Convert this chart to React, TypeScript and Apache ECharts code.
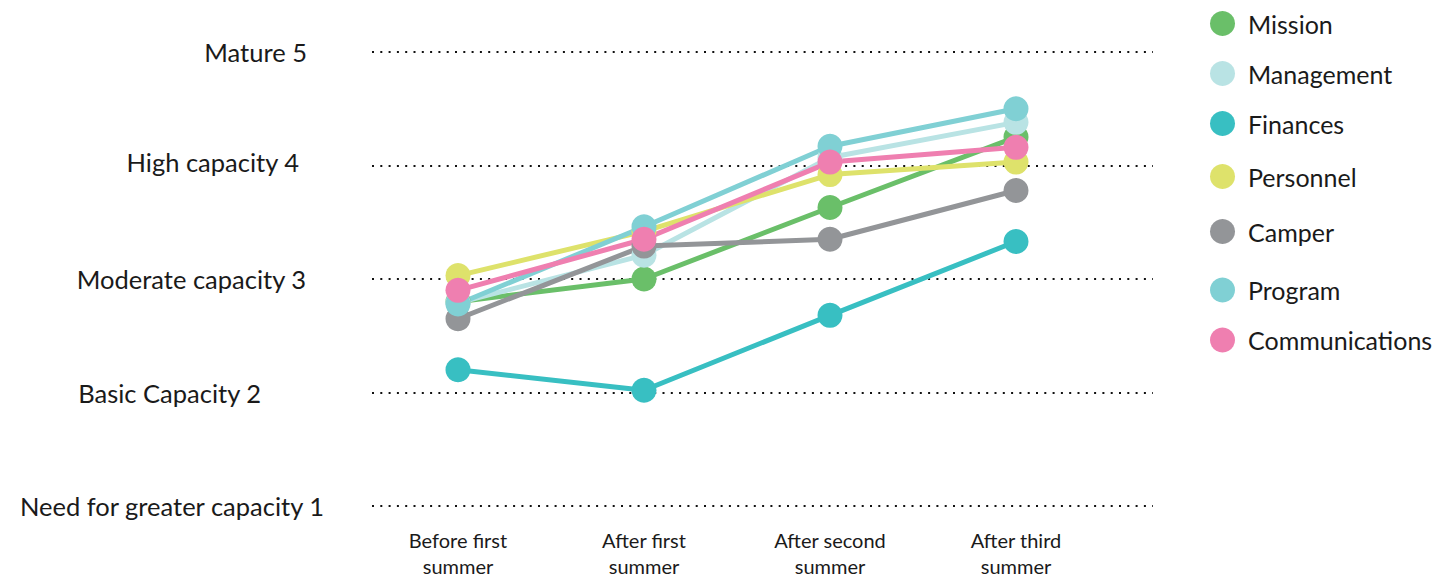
import React, { useEffect, useRef } from "react";
import * as echarts from "echarts";

const categories = [
  "Before first\nsummer",
  "After first\nsummer",
  "After second\nsummer",
  "After third\nsummer",
];

const levels = [
  "Need for greater capacity 1",
  "Basic Capacity 2",
  "Moderate capacity 3",
  "High capacity 4",
  "Mature 5",
];

const seriesNames = [
  "Mission",
  "Management",
  "Finances",
  "Personnel",
  "Camper",
  "Program",
  "Communications",
];

const mission = [2.8, 3.0, 3.63, 4.25];
const management = [2.79, 3.21, 4.07, 4.38];
const finances = [2.2, 2.02, 2.68, 3.33];
const personnel = [3.03, 3.42, 3.92, 4.03];
const camper = [2.65, 3.29, 3.35, 3.78];
const program = [2.78, 3.46, 4.17, 4.5];
const communications = [2.9, 3.35, 4.03, 4.16];

const seriesValues = [mission, management, finances, personnel, camper, program, communications];

const colors = ["#6abf69", "#b9e3e4", "#38bfc2", "#dee26b", "#939598", "#80d0d4", "#ef7fb0"];

// layout-only constants
const labelRightPad = [0, 63, 18, 25, 17];
const labelBottomPad = [0, 0, 0, 7, 0];
const legendTops = [6, 56, 106, 159, 214, 272.5, 322.5];
const FONT = "Lato";
const TEXT = "#1a1a1a";

export default function App() {
  const ref = useRef<HTMLDivElement>(null);
  useEffect(() => {
    if (!ref.current) return;
    const chart = echarts.init(ref.current, undefined, { renderer: "svg" });
    const rich: Record<string, any> = {};
    levels.forEach((_, i) => {
      rich["l" + (i + 1)] = {
        fontSize: 25.5,
        fontFamily: FONT,
        color: TEXT,
        padding: [0, labelRightPad[i], labelBottomPad[i], 0],
      };
    });
    chart.setOption({
      animation: false,
      grid: [
        { left: 372, right: 285, top: 52, bottom: 71, containLabel: false, outerBoundsMode: "none" },
        { left: 458, right: 422, top: 52, bottom: 71, containLabel: false, outerBoundsMode: "none" },
      ],
      xAxis: [
        { type: "value", gridIndex: 0, show: false, min: 0, max: 1 },
        {
          type: "category",
          gridIndex: 1,
          data: categories,
          boundaryGap: false,
          axisLine: { show: false },
          axisTick: { show: false },
          splitLine: { show: false },
          axisLabel: {
            fontSize: 20,
            lineHeight: 26,
            fontFamily: FONT,
            color: TEXT,
            margin: 21,
            interval: 0,
          },
        },
      ],
      yAxis: [
        {
          type: "value",
          gridIndex: 0,
          min: 1,
          max: 5,
          interval: 1,
          axisLine: { show: false },
          axisTick: { show: false },
          splitLine: {
            show: true,
            lineStyle: { color: "#111", width: 2, type: [2, 6.3] },
          },
          axisLabel: {
            margin: 48,
            fontSize: 25.5,
            fontFamily: FONT,
            color: TEXT,
            formatter: (v: number) => `{l${v}|${levels[v - 1]}}`,
            rich,
          },
        },
        {
          type: "value",
          gridIndex: 1,
          min: 1,
          max: 5,
          interval: 1,
          show: false,
          splitLine: { show: false },
        },
      ],
      legend: seriesNames.map((name, i) => ({
        data: [name],
        left: 1205,
        top: legendTops[i],
        orient: "vertical",
        icon: "circle",
        itemWidth: 25,
        itemHeight: 25,
        textStyle: {
          fontSize: 25,
          lineHeight: 25,
          fontFamily: FONT,
          color: TEXT,
          padding: [0, 0, 0, 8],
        },
      })),
      series: seriesNames.map((name, i) => ({
        name,
        type: "line",
        xAxisIndex: 1,
        yAxisIndex: 1,
        data: seriesValues[i],
        symbol: "circle",
        symbolSize: 25,
        showSymbol: true,
        lineStyle: { width: 5, color: colors[i] },
        itemStyle: { color: colors[i] },
        emphasis: { disabled: true },
      })),
    });
    return () => chart.dispose();
  }, []);
  return (
    <div
      ref={ref}
      style={{ position: "fixed", left: 0, top: 0, width: 1438, height: 577, background: "#fff" }}
    />
  );
}
